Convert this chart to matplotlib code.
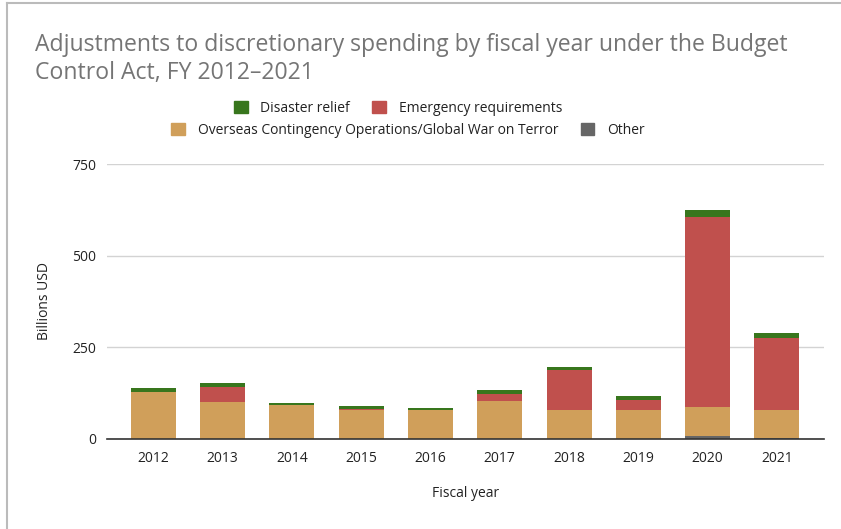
import matplotlib.pyplot as plt
from matplotlib.patches import Patch
import numpy as np

plt.rcParams['font.family'] = ['Open Sans', 'DejaVu Sans']

years = ['2012', '2013', '2014', '2015', '2016', '2017', '2018', '2019', '2020', '2021']
other = [0, 0, 0, 0, 0, 0, 0, 0, 8, 4]
oco = [128, 100, 92, 78, 78, 105, 80, 80, 79, 76]
emergency = [0, 43, 0, 4, 0, 18, 109, 26, 519, 196]
disaster = [11, 11, 7, 7, 7, 11, 7, 10, 19, 14]

C_OTHER = '#666666'
C_OCO = '#d09f5a'
C_EMERG = '#c0504d'
C_DIS = '#38761d'
TXT = '#222222'

fig = plt.figure(figsize=[8.41, 5.29], dpi=100)
ax = fig.add_axes([107 / 841, 1 - 439 / 529, (824 - 107) / 841, (439 - 164) / 529])

x = np.arange(len(years))
w = 0.65
b1 = np.array(other)
b2 = b1 + np.array(oco)
b3 = b2 + np.array(emergency)
ax.bar(x, other, w, color=C_OTHER, zorder=2)
ax.bar(x, oco, w, bottom=b1, color=C_OCO, zorder=2)
ax.bar(x, emergency, w, bottom=b2, color=C_EMERG, zorder=2)
ax.bar(x, disaster, w, bottom=b3, color=C_DIS, zorder=2)

ax.set_xlim(-0.67, 9.68)
ax.set_ylim(0, 750)
ax.set_yticks([0, 250, 500, 750])
ax.set_xticks(x)
ax.set_xticklabels(years)
ax.tick_params(length=0, labelsize=10, colors=TXT, pad=8)
ax.tick_params(axis='x', pad=9)
ax.grid(axis='y', color='#d3d3d3', linewidth=1, zorder=0)
for s in ['top', 'right', 'left']:
    ax.spines[s].set_visible(False)
ax.spines['bottom'].set_color('#333333')
ax.spines['bottom'].set_linewidth(1.2)
ax.spines['bottom'].set_zorder(3)

ax.set_ylabel('Billions USD', fontsize=10, color=TXT, labelpad=14)
ax.set_xlabel('Fiscal year', fontsize=10, color=TXT, labelpad=14)

fig.text(35 / 841, 1 - 33 / 529,
         'Adjustments to discretionary spending by fiscal year under the Budget\nControl Act, FY 2012\u20132021',
         fontsize=16.6, color='#757575', ha='left', va='top', linespacing=1.2)

h1 = [Patch(color=C_DIS, label='Disaster relief'),
      Patch(color=C_EMERG, label='Emergency requirements')]
h2 = [Patch(color=C_OCO, label='Overseas Contingency Operations/Global War on Terror'),
      Patch(color=C_OTHER, label='Other')]
kw = dict(frameon=False, ncol=2, fontsize=10, handlelength=1.0, handleheight=1.0,
          handletextpad=0.9, columnspacing=1.6, labelcolor=TXT)
fig.legend(handles=h1, loc='center', bbox_to_anchor=(398 / 841, 1 - 108 / 529), **kw)
fig.legend(handles=h2, loc='center', bbox_to_anchor=(408 / 841, 1 - 130 / 529), **kw)

# screenshot border
fig.add_artist(plt.Line2D([7 / 841, 7 / 841], [0, 1 - 3 / 529], color='#bbbbbb', lw=1.5))
fig.add_artist(plt.Line2D([7 / 841, 1], [1 - 3 / 529, 1 - 3 / 529], color='#bbbbbb', lw=1.5))

fig.savefig('out.png', dpi=100)
